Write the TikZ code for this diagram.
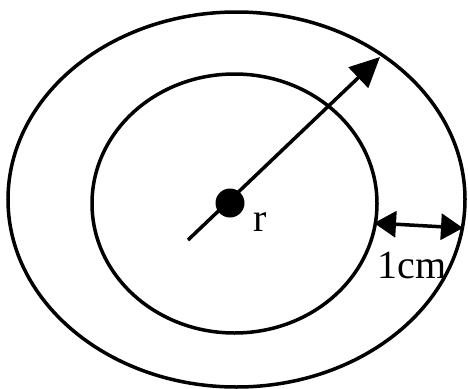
\documentclass[tikz,border=0pt]{standalone}
\usepackage{fontspec}
\setmainfont{Liberation Serif}
\usetikzlibrary{arrows.meta}
\begin{document}
\begin{tikzpicture}[x=1pt,y=-1pt,
  ring/.style={line width=3.5pt},
  ptr/.style={line width=3.5pt,-{Triangle[length=30pt,width=28pt]}},
  dim/.style={line width=3.5pt,{Triangle[length=22pt,width=26pt]}-{Triangle[length=22pt,width=26pt]}},
  lbl/.style={font=\fontsize{40}{40}\selectfont,inner sep=0pt}]
\useasboundingbox (0,0) rectangle (468,388);
\draw[ring] (236.5,199.5) ellipse [x radius=228.5, y radius=187.5];
\draw[ring] (234.5,203.5) ellipse [x radius=142.5, y radius=129.5];
\coordinate (tail) at (188,240);
\coordinate (head) at (380,57);
\draw[ptr] (tail) -- (head);
\fill (230,203) circle (14.5) node (dot) {};
\coordinate (in) at (374,223);
\coordinate (out) at (463,228);
\draw[dim] (in) -- (out);
\node[lbl] (r) at (260,222) {r};
\node[lbl] (cm) at (412,265) {1cm};
\end{tikzpicture}
\end{document}
